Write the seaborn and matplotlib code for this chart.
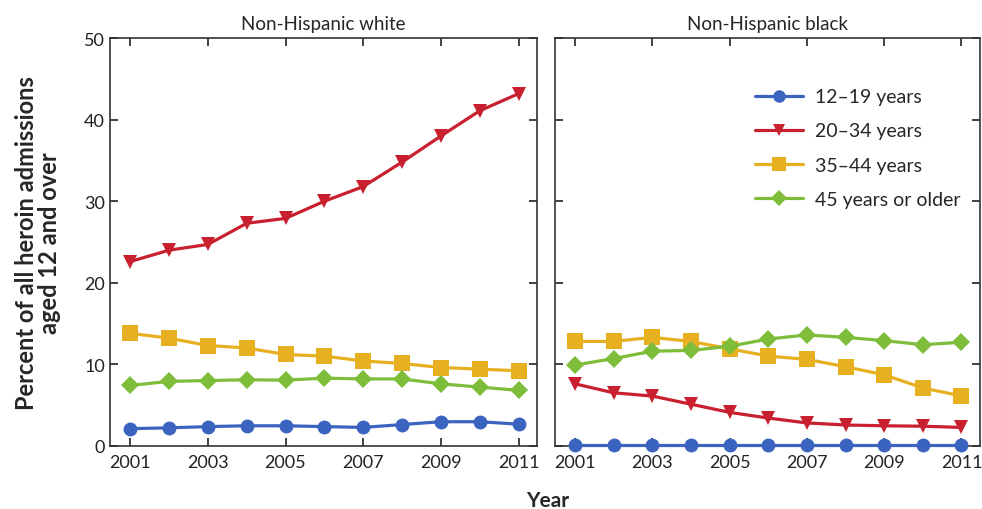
import pandas as pd
import matplotlib.pyplot as plt
import seaborn as sns

years = list(range(2001, 2012))
groups = ['12\u201319 years', '20\u201334 years', '35\u201344 years', '45 years or older']

# Non-Hispanic white
white_12_19 = [2.1, 2.2, 2.35, 2.45, 2.45, 2.35, 2.25, 2.6, 2.95, 2.95, 2.65]
white_20_34 = [22.6, 24.0, 24.7, 27.3, 27.9, 30.0, 31.8, 34.8, 38.0, 41.1, 43.2]
white_35_44 = [13.8, 13.2, 12.3, 12.0, 11.2, 11.0, 10.4, 10.1, 9.6, 9.4, 9.2]
white_45_up = [7.4, 7.9, 8.0, 8.1, 8.05, 8.3, 8.2, 8.2, 7.6, 7.2, 6.8]

# Non-Hispanic black
black_12_19 = [0.05] * 11
black_20_34 = [7.6, 6.5, 6.1, 5.1, 4.1, 3.4, 2.8, 2.55, 2.45, 2.4, 2.25]
black_35_44 = [12.8, 12.8, 13.3, 12.8, 11.9, 11.0, 10.6, 9.7, 8.7, 7.1, 6.1]
black_45_up = [9.9, 10.7, 11.6, 11.7, 12.2, 13.1, 13.6, 13.3, 12.9, 12.4, 12.7]

panels = {
    'Non-Hispanic white': [white_12_19, white_20_34, white_35_44, white_45_up],
    'Non-Hispanic black': [black_12_19, black_20_34, black_35_44, black_45_up],
}

rows = []
for panel, series in panels.items():
    for g, vals in zip(groups, series):
        for y, v in zip(years, vals):
            rows.append({'panel': panel, 'group': g, 'year': y, 'pct': v})
df = pd.DataFrame(rows)

colors = dict(zip(groups, ['#3a64bf', '#c8202e', '#e6b021', '#7dbd3a']))
markers = dict(zip(groups, ['o', 'v', 's', 'D']))
msizes = {'o': 10, 'v': 10, 's': 11, 'D': 9}

sns.set_theme(style='ticks')
plt.rcParams['font.family'] = ['Lato', 'DejaVu Sans']

fig = plt.figure(figsize=(9.82, 5.10), dpi=100)
ax1 = fig.add_axes([0.112, 0.124, 0.435, 0.799])
ax2 = fig.add_axes([0.565, 0.124, 0.433, 0.799])

for ax, panel in zip([ax1, ax2], panels):
    sub = df[df['panel'] == panel]
    for g in groups:
        d = sub[sub['group'] == g]
        m = markers[g]
        sns.lineplot(data=d, x='year', y='pct', ax=ax, color=colors[g],
                     marker=m, markersize=msizes[m], markeredgewidth=0,
                     linewidth=2.3, label=g, legend=False, clip_on=False,
                     zorder=3)
    ax.set_xlim(2000.48, 2011.48)
    ax.set_ylim(0, 50)
    ax.set_xticks([2001, 2003, 2005, 2007, 2009, 2011])
    ax.set_yticks([0, 10, 20, 30, 40, 50])
    ax.tick_params(direction='in', top=True, right=True, length=6, width=1.2,
                   labelsize=13, colors='#222222')
    ax.tick_params(axis='x', pad=6)
    for s in ax.spines.values():
        s.set_linewidth(1.2)
        s.set_color('#333333')
    ax.set_xlabel('')
    ax.set_ylabel('')
    ax.set_title(panel, fontsize=13.5, pad=7)

ax2.set_yticklabels([])
ax1.set_ylabel('Percent of all heroin admissions\naged 12 and over',
               fontsize=17, fontweight='bold', labelpad=17, linespacing=1.0)
fig.text(0.558, 0.018, 'Year', ha='center', va='center', fontsize=15, fontweight='bold')

ax2.legend(loc='upper right', bbox_to_anchor=(0.995, 0.92), frameon=False,
           fontsize=14, handlelength=2.5, labelspacing=0.88, handletextpad=0.6,
           markerscale=0.9)

fig.savefig('out.png', dpi=100)
